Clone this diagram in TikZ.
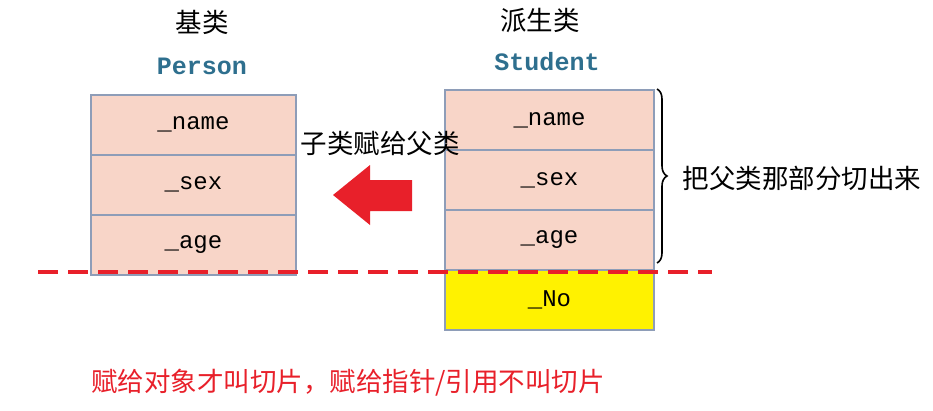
\documentclass[tikz,border=0pt]{standalone}
\usepackage{fontspec}
\setmonofont{Liberation Mono}
\newfontfamily\cjk{Noto Sans CJK SC}
\usetikzlibrary{decorations.pathreplacing}
\definecolor{peach}{HTML}{F8D5C8}
\definecolor{edge}{HTML}{8E9DB8}
\definecolor{titleblue}{HTML}{2E6F8E}
\definecolor{myred}{HTML}{E8202A}
\begin{document}
\begin{tikzpicture}[x=1pt,y=-1pt,
  fld/.style={draw=edge,line width=2pt,fill=peach,minimum width=205pt,minimum height=60pt,inner sep=0pt,font=\ttfamily\fontsize{24}{24}\selectfont},
  cn/.style={font=\cjk\fontsize{26.5}{26.5}\selectfont},
  ttl/.style={font=\ttfamily\bfseries\fontsize{25}{25}\selectfont,text=titleblue}]
\useasboundingbox (0,0) rectangle (933,410);
\node[fld] (pn) at (193.5,124.5) {\_name};
\node[fld] (ps) at (193.5,184.5) {\_sex};
\node[fld] (pa) at (193.5,244.5) {\_age};
\node[fld,minimum width=209pt] (sn) at (549.5,120) {\_name};
\node[fld,minimum width=209pt] (ss) at (549.5,180) {\_sex};
\node[fld,minimum width=209pt] (sa) at (549.5,240) {\_age};
\node[fld,minimum width=209pt,fill=yellow] (sno) at (549.5,300) {\_No};
\node[cn] (t1) at (202,22) {基类};
\node[ttl] (t2) at (202,66) {Person};
\node[cn] (t3) at (540,20) {派生类};
\node[ttl] (t4) at (547,62) {Student};
\node[cn] (lab) at (380,143) {子类赋给父类};
\node[cn] (cut) at (802,178) {把父类那部分切出来};
\node[cn,text=myred] (bot) at (348,383) {赋给对象才叫切片，赋给指针/引用不叫切片};
\coordinate (dl) at (38,272);
\coordinate (dr) at (712,272);
\draw[myred,line width=3.5pt,dash pattern=on 20pt off 10pt] (dl) -- (dr);
\fill[myred] (333,195) -- (370,165) -- (370,180) -- (412,180) -- (412,211) -- (370,211) -- (370,225) -- cycle;
\draw[decorate,decoration={brace,amplitude=10pt},line width=1.6pt] ([xshift=2pt]sn.north east) -- ([xshift=2pt,yshift=8pt]sa.south east);
\end{tikzpicture}
\end{document}
